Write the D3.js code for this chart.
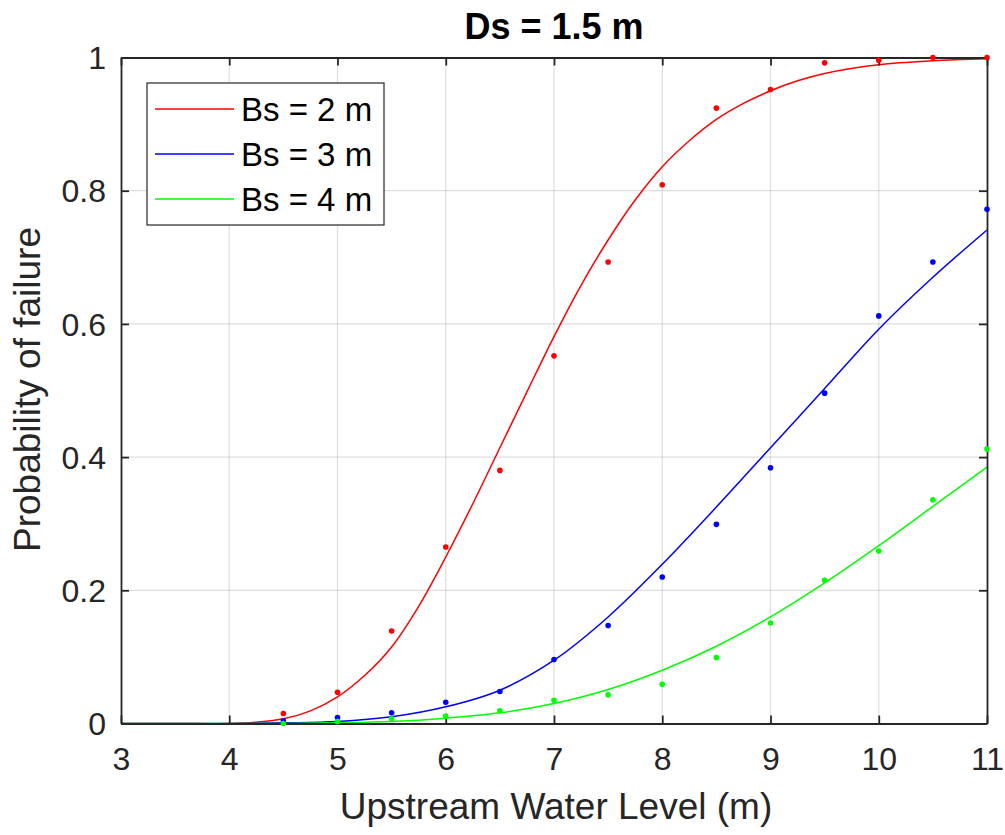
<!DOCTYPE html>
<html>
<head>
<meta charset="utf-8">
<script src="https://cdn.jsdelivr.net/npm/d3@7"></script>
<style>
  html, body { margin: 0; padding: 0; background: #fff; }
  svg { display: block; font-family: Arial, "Liberation Sans", Helvetica, sans-serif; }
</style>
</head>
<body>
<svg id="chart" width="1005" height="835"></svg>
<script>
// ---------- data ----------
const titleText = "Ds = 1.5 m";
const xLabelText = "Upstream Water Level (m)";
const yLabelText = "Probability of failure";
const seriesNames = ["Bs = 2 m", "Bs = 3 m", "Bs = 4 m"];
const seriesColors = ["#ff0000", "#0000ff", "#00ff00"];

const xTicks = [3, 4, 5, 6, 7, 8, 9, 10, 11];
const yTicks = [0, 0.2, 0.4, 0.6, 0.8, 1];
const yTickLabels = ["0", "0.2", "0.4", "0.6", "0.8", "1"];

// observed points
const pointX = [4.5, 5, 5.5, 6, 6.5, 7, 7.5, 8, 8.5, 9, 9.5, 10, 10.5, 11];
const pointsBs2 = [0.015, 0.047, 0.139, 0.265, 0.380, 0.552, 0.693, 0.809, 0.924, 0.952, 0.992, 0.996, 1.0, 1.0];
const pointsBs3 = [0.004, 0.009, 0.016, 0.032, 0.048, 0.096, 0.147, 0.220, 0.299, 0.384, 0.496, 0.612, 0.693, 0.772];
const pointsBs4 = [0.000, 0.003, 0.007, 0.011, 0.019, 0.035, 0.043, 0.059, 0.099, 0.151, 0.215, 0.259, 0.336, 0.412];

// fitted curves
const curveXBs2 = [3, 3.5, 4, 4.25, 4.5, 4.75, 5, 5.25, 5.5, 5.75, 6, 6.25, 6.5, 6.75, 7, 7.25, 7.5, 7.75, 8, 8.25, 8.5, 8.75, 9, 9.25, 9.5, 10, 10.5, 11];
const curveYBs2 = [0, 0, 0, 0.002, 0.007, 0.019, 0.040, 0.072, 0.115, 0.176, 0.250, 0.330, 0.414, 0.498, 0.581, 0.658, 0.726, 0.786, 0.836, 0.875, 0.907, 0.931, 0.950, 0.965, 0.976, 0.989, 0.995, 0.998];
const curveXBs3 = [3, 3.5, 4, 4.5, 5, 5.5, 6, 6.5, 7, 7.5, 8, 8.5, 9, 9.5, 10, 10.5, 11];
const curveYBs3 = [0, 0, 0, 0.001, 0.003, 0.010, 0.025, 0.050, 0.095, 0.160, 0.239, 0.325, 0.414, 0.503, 0.592, 0.670, 0.741];
const curveXBs4 = [3, 3.5, 4, 4.5, 5, 5.5, 6, 6.5, 7, 7.5, 8, 8.5, 9, 9.5, 10, 10.5, 11];
const curveYBs4 = [0, 0, 0, 0, 0.001, 0.003, 0.008, 0.016, 0.030, 0.051, 0.080, 0.116, 0.160, 0.211, 0.267, 0.326, 0.385];

// ---------- layout ----------
const plot = { left: 121, right: 987, top: 57.5, bottom: 723.5 };
const axisColor = "#262626";

const svg = d3.select("#chart");
const x = d3.scaleLinear().domain([3, 11]).range([plot.left, plot.right]);
const y = d3.scaleLinear().domain([0, 1]).range([plot.bottom, plot.top]);

// grid
const grid = svg.append("g");
grid.selectAll("line.gx").data(xTicks.slice(1, -1)).join("line")
  .attr("x1", d => x(d)).attr("x2", d => x(d))
  .attr("y1", plot.top).attr("y2", plot.bottom)
  .attr("stroke", "rgba(38,38,38,0.15)").attr("stroke-width", 1.2);
grid.selectAll("line.gy").data(yTicks.slice(1, -1)).join("line")
  .attr("y1", d => y(d)).attr("y2", d => y(d))
  .attr("x1", plot.left).attr("x2", plot.right)
  .attr("stroke", "rgba(38,38,38,0.15)").attr("stroke-width", 1.2);

// curves
const curves = [
  { xs: curveXBs2, ys: curveYBs2 },
  { xs: curveXBs3, ys: curveYBs3 },
  { xs: curveXBs4, ys: curveYBs4 }
];
const lineGen = d3.line().x(d => x(d[0])).y(d => Math.min(y(0), y(d[1]))).curve(d3.curveCatmullRom.alpha(0.5));
curves.forEach((c, i) => {
  svg.append("path")
    .datum(c.xs.map((v, k) => [v, c.ys[k]]))
    .attr("d", lineGen)
    .attr("fill", "none")
    .attr("stroke", seriesColors[i])
    .attr("stroke-width", 1.5);
});

// axes (box with inward ticks)
const tickLen = 8;
const axBottom = d3.axisBottom(x).tickValues(xTicks).tickSizeInner(-tickLen).tickSizeOuter(0).tickPadding(22);
const axTop = d3.axisTop(x).tickValues(xTicks).tickSizeInner(-tickLen).tickSizeOuter(0).tickFormat("");
const axLeft = d3.axisLeft(y).tickValues(yTicks).tickSizeInner(-tickLen).tickSizeOuter(0).tickPadding(15)
  .tickFormat((d, i) => yTickLabels[i]);
const axRight = d3.axisRight(y).tickValues(yTicks).tickSizeInner(-tickLen).tickSizeOuter(0).tickFormat("");

function styleAxis(g) {
  g.select(".domain").attr("stroke", axisColor).attr("stroke-width", 1.8);
  g.selectAll(".tick line").attr("stroke", axisColor).attr("stroke-width", 1.8);
  g.selectAll(".tick text").attr("fill", axisColor).attr("font-size", 32)
    .attr("font-family", "Arial, 'Liberation Sans', Helvetica, sans-serif");
}
svg.append("g").attr("transform", `translate(0,${plot.bottom})`).call(axBottom).call(styleAxis)
  .selectAll(".tick text").attr("dy", "0.71em").attr("y", 24);
svg.append("g").attr("transform", `translate(0,${plot.top})`).call(axTop).call(styleAxis);
svg.append("g").attr("transform", `translate(${plot.left},0)`).call(axLeft).call(styleAxis)
  .selectAll(".tick text").attr("dy", "0.35em");
svg.append("g").attr("transform", `translate(${plot.right},0)`).call(axRight).call(styleAxis);

// points
const pointSets = [pointsBs2, pointsBs3, pointsBs4];
pointSets.forEach((ps, i) => {
  svg.append("g").selectAll("circle").data(ps.map((v, k) => [pointX[k], v])).join("circle")
    .attr("cx", d => x(d[0])).attr("cy", d => y(d[1])).attr("r", 2.8)
    .attr("fill", seriesColors[i]);
});

// title
svg.append("text").attr("x", (plot.left + plot.right) / 2).attr("y", 39)
  .attr("text-anchor", "middle").attr("font-size", 36).attr("font-weight", "bold")
  .attr("fill", "#000").text(titleText);

// x label
svg.append("text").attr("x", (plot.left + plot.right) / 2 + 2).attr("y", 819)
  .attr("text-anchor", "middle").attr("font-size", 37).attr("fill", axisColor).text(xLabelText);

// y label
svg.append("text").attr("transform", `translate(40,${(plot.top + plot.bottom) / 2 - 1}) rotate(-90)`)
  .attr("text-anchor", "middle").attr("font-size", 37).attr("fill", axisColor).text(yLabelText);

// legend
const leg = { x: 147, y: 83, w: 237, h: 142 };
const lg = svg.append("g");
lg.append("rect").attr("x", leg.x).attr("y", leg.y).attr("width", leg.w).attr("height", leg.h)
  .attr("fill", "#fff").attr("stroke", axisColor).attr("stroke-width", 1.2);
const rowY = [109, 154, 199];
seriesNames.forEach((name, i) => {
  lg.append("line").attr("x1", 155).attr("x2", 234).attr("y1", rowY[i]).attr("y2", rowY[i])
    .attr("stroke", seriesColors[i]).attr("stroke-width", 1.5);
  lg.append("text").attr("x", 241).attr("y", rowY[i]).attr("dy", "0.36em")
    .attr("font-size", 33).attr("fill", "#000").text(name);
});
</script>
</body>
</html>
